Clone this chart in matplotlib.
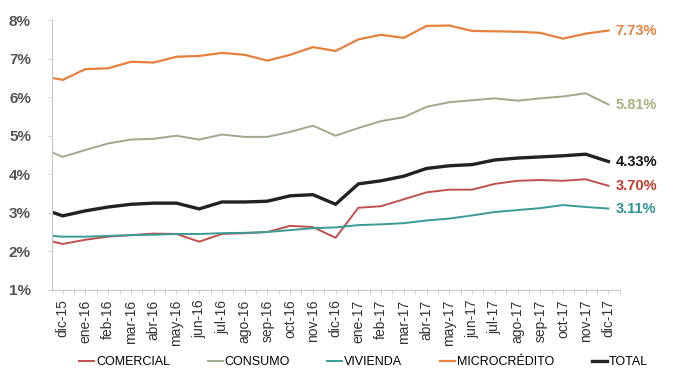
import numpy as np
import matplotlib.pyplot as plt

# Meses (el primero, nov-15, queda recortado por el eje, como en la lámina original)
months = ["nov-15", "dic-15", "ene-16", "feb-16", "mar-16", "abr-16", "may-16",
          "jun-16", "jul-16", "ago-16", "sep-16", "oct-16", "nov-16", "dic-16",
          "ene-17", "feb-17", "mar-17", "abr-17", "may-17", "jun-17", "jul-17",
          "ago-17", "sep-17", "oct-17", "nov-17", "dic-17"]

comercial = [2.33, 2.19, 2.30, 2.38, 2.42, 2.46, 2.45, 2.25, 2.45, 2.47, 2.50,
             2.66, 2.63, 2.35, 3.13, 3.17, 3.35, 3.53, 3.60, 3.60, 3.75, 3.83,
             3.85, 3.83, 3.87, 3.70]
consumo = [4.70, 4.45, 4.63, 4.80, 4.90, 4.92, 5.00, 4.90, 5.03, 4.97, 4.97,
           5.10, 5.26, 5.00, 5.20, 5.38, 5.48, 5.75, 5.87, 5.92, 5.97, 5.91,
           5.97, 6.02, 6.10, 5.81]
vivienda = [2.42, 2.38, 2.38, 2.40, 2.42, 2.43, 2.45, 2.45, 2.47, 2.48, 2.50,
            2.55, 2.60, 2.62, 2.68, 2.70, 2.73, 2.80, 2.85, 2.93, 3.02, 3.07,
            3.12, 3.20, 3.15, 3.11]
microcredito = [6.56, 6.45, 6.73, 6.75, 6.92, 6.90, 7.05, 7.07, 7.15, 7.10, 6.95,
                7.10, 7.30, 7.20, 7.50, 7.62, 7.54, 7.85, 7.86, 7.72, 7.71, 7.70,
                7.67, 7.52, 7.65, 7.73]
total = [3.12, 2.92, 3.05, 3.15, 3.22, 3.25, 3.25, 3.10, 3.28, 3.28, 3.30,
         3.44, 3.47, 3.22, 3.75, 3.83, 3.95, 4.15, 4.22, 4.25, 4.37, 4.42,
         4.45, 4.48, 4.52, 4.33]

series = [
    ("COMERCIAL", comercial, "#C0504D", 1.4),
    ("CONSUMO", consumo, "#9EA98A", 1.4),
    ("VIVIENDA", vivienda, "#3A9A96", 1.4),
    ("MICROCRÉDITO", microcredito, "#E6803C", 1.6),
    ("TOTAL", total, "#222222", 2.4),
]
label_colors = {
    "COMERCIAL": "#C0392B",
    "CONSUMO": "#A7B27F",
    "VIVIENDA": "#2E9490",
    "MICROCRÉDITO": "#E6803C",
    "TOTAL": "#111111",
}

plt.rcParams["font.family"] = ["Liberation Sans", "DejaVu Sans"]

fig = plt.figure(figsize=(6.73, 3.73), dpi=100)
ax = fig.add_axes([0.077, 0.223, 0.844, 0.723])

x = np.arange(len(months)) - 1

for name, values, color, lw in series:
    ax.plot(x, values, color=color, linewidth=lw, label=name,
            solid_joinstyle="round")
    ax.annotate(f"{values[-1]:.2f}%", xy=(x[-1], values[-1]),
                xytext=(5, 0), textcoords="offset points",
                va="center", ha="left", fontsize=10.5, fontweight="bold",
                color=label_colors[name], annotation_clip=False)

ax.set_xlim(-0.48, 24.43)
ax.set_ylim(1, 8)
ax.set_yticks(range(1, 9))
ax.set_yticklabels([f"{v}%" for v in range(1, 9)], fontsize=11,
                   fontweight="bold", color="#555555")
ax.set_xticks(x[1:])
ax.set_xticklabels(months[1:], rotation=90, fontsize=10, color="#333333")
ax.set_xticks(x[1:] + 0.5, minor=True)

for side in ["top", "right"]:
    ax.spines[side].set_visible(False)
for side in ["left", "bottom"]:
    ax.spines[side].set_color("#C8C8C8")
    ax.spines[side].set_linewidth(0.8)
ax.tick_params(axis="both", which="both", color="#C8C8C8", length=3, width=0.6)
ax.tick_params(axis="y", pad=12)
ax.tick_params(axis="x", pad=4)

fig.legend(loc="lower center", bbox_to_anchor=(0.54, -0.018), ncol=5,
           frameon=False, handlelength=1.2, handletextpad=0.15,
           columnspacing=3.0,
           prop={"family": ["Liberation Sans Narrow", "Liberation Sans"],
                 "size": 9})

fig.savefig("out.png", dpi=100)
plt.close(fig)
